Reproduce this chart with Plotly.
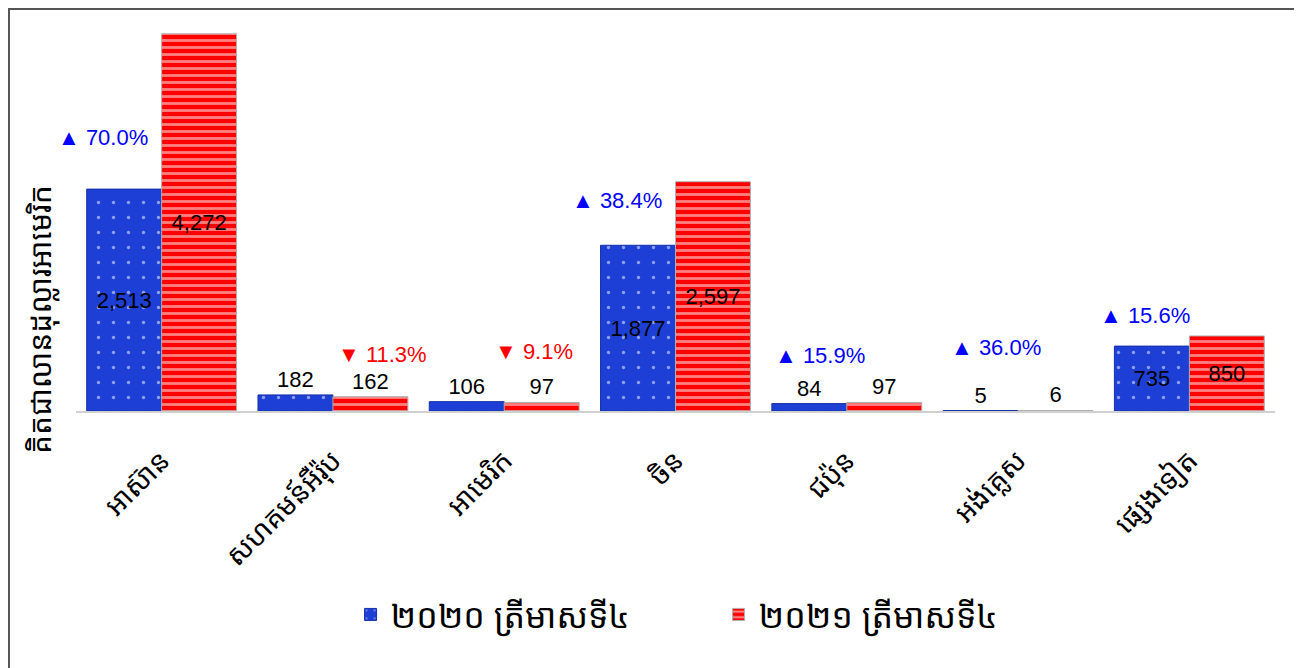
import plotly.graph_objects as go

# Data
categories = ['អាស៊ាន', 'សហគមន៍អឺរ៉ុប', 'អាមេរិក', 'ចិន', 'ជប៉ុន', 'អង់គ្លេស', 'ផ្សេងទៀត']
q4_2020 = [2513, 182, 106, 1877, 84, 5, 735]
q4_2021 = [4272, 162, 97, 2597, 97, 6, 850]
change_pct = [70.0, -11.3, -9.1, 38.4, 15.9, 36.0, 15.6]
series_names = ['២០២០ ត្រីមាសទី៤', '២០២១ ត្រីមាសទី៤']
y_title = 'គិតជាលានដុល្លារអាមេរិក'

# label placement tweaks (pixels, relative to category centre / 2020 bar top)
pct_xshift = [-59, 50, 30, -59, -27, -22, -44]
pct_yshift = [52, 40, 50, 45, 48, 63, 31]

BLUE = '#1d3fd6'
RED = '#ff0000'
font_khmer = 'Noto Sans Khmer, Khmer OS, Noto Sans, sans-serif'
font_num = 'Liberation Sans, Arial'

fig = go.Figure()
fig.add_trace(go.Bar(
    x=categories, y=q4_2020, name=series_names[0],
    text=[f'{v:,}' for v in q4_2020], textposition='auto',
    insidetextanchor='middle', constraintext='none',
    textfont=dict(size=22, color='black', family=font_num),
    marker=dict(color=BLUE, line=dict(color='#1530a8', width=1),
                pattern=dict(shape='.', fgcolor='white', bgcolor=BLUE,
                             size=15, solidity=0.04)),
))
fig.add_trace(go.Bar(
    x=categories, y=q4_2021, name=series_names[1],
    text=[f'{v:,}' for v in q4_2021], textposition='auto',
    insidetextanchor='middle', constraintext='none',
    textfont=dict(size=22, color='black', family=font_num),
    marker=dict(color=RED, line=dict(color='#b0b0b0', width=1),
                pattern=dict(shape='-', fillmode='overlay', fgcolor='white',
                             size=7, solidity=0.4)),
))

# percentage change labels
for i, cat in enumerate(categories):
    p = change_pct[i]
    up = p >= 0
    fig.add_annotation(
        x=cat, y=q4_2020[i], xref='x', yref='y',
        text=('▲ ' if up else '▼ ') + f'{abs(p):.1f}%',
        showarrow=False, xshift=pct_xshift[i], yshift=pct_yshift[i],
        font=dict(size=22, color='#0000ff' if up else '#ff0000', family=font_num),
    )

# y axis title
fig.add_annotation(
    x=-0.030, y=0.239, xref='paper', yref='paper', text=y_title,
    textangle=-90, showarrow=False, xanchor='center', yanchor='middle',
    font=dict(size=30, color='black', family=font_khmer),
)

# frame (only top and left edges fall inside the picture)
fig.add_shape(type='rect', xref='paper', yref='paper',
              x0=-0.0559, x1=1.05, y0=-0.75, y1=1.0551,
              line=dict(color='#555555', width=2))

fig.update_layout(
    width=1294, height=660,
    margin=dict(l=68, r=27, t=22, b=257, autoexpand=False),
    paper_bgcolor='white', plot_bgcolor='white',
    barmode='group', bargap=0.125, bargroupgap=0,
    showlegend=True,
    legend=dict(orientation='h', x=0.229, xanchor='left', y=-0.535,
                yanchor='middle', entrywidth=323,
                font=dict(size=34, family=font_khmer, color='black'),
                traceorder='normal'),
    xaxis=dict(showline=True, linecolor='#d0d0d0', linewidth=2,
               range=[-0.5, len(categories) - 0.5],
               tickangle=-45, ticks='', automargin=False,
               ticklabelstandoff=20,
               tickfont=dict(size=28, family=font_khmer, color='black')),
    yaxis=dict(range=[0, 4315], visible=False, automargin=False),
)

fig.write_html('out.html')
